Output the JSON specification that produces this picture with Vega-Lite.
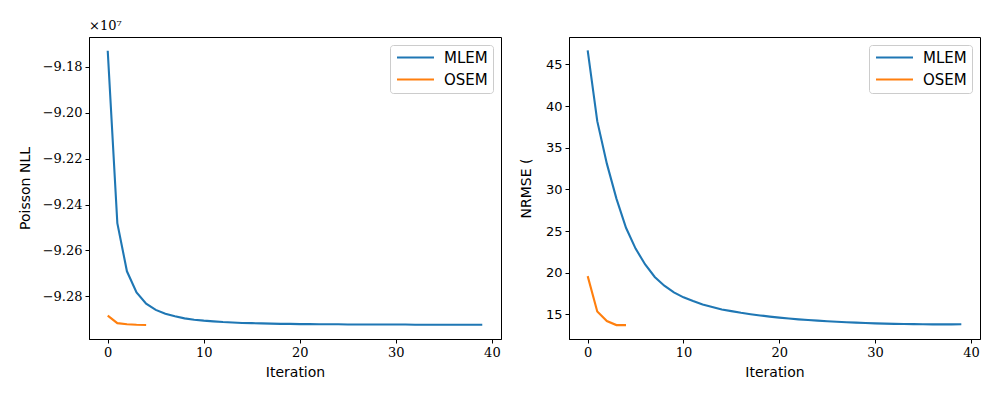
{
  "$schema": "https://vega.github.io/schema/vega-lite/v6.json",
  "background": "white",
  "padding": {"left": 17, "top": 19, "right": 5, "bottom": 5},
  "data": {"values": [
    {"it":0,"m":"MLEM","nll":-91730000,"nrmse":46.7},
    {"it":1,"m":"MLEM","nll":-92481000,"nrmse":38.2},
    {"it":2,"m":"MLEM","nll":-92691000,"nrmse":33.1},
    {"it":3,"m":"MLEM","nll":-92783000,"nrmse":28.9},
    {"it":4,"m":"MLEM","nll":-92832000,"nrmse":25.4},
    {"it":5,"m":"MLEM","nll":-92859000,"nrmse":22.9},
    {"it":6,"m":"MLEM","nll":-92876000,"nrmse":21.0},
    {"it":7,"m":"MLEM","nll":-92887000,"nrmse":19.5},
    {"it":8,"m":"MLEM","nll":-92896000,"nrmse":18.45},
    {"it":9,"m":"MLEM","nll":-92902000,"nrmse":17.65},
    {"it":10,"m":"MLEM","nll":-92906000,"nrmse":17.05},
    {"it":11,"m":"MLEM","nll":-92909000,"nrmse":16.6},
    {"it":12,"m":"MLEM","nll":-92912000,"nrmse":16.2},
    {"it":13,"m":"MLEM","nll":-92914000,"nrmse":15.9},
    {"it":14,"m":"MLEM","nll":-92916000,"nrmse":15.6},
    {"it":15,"m":"MLEM","nll":-92917000,"nrmse":15.4},
    {"it":16,"m":"MLEM","nll":-92918000,"nrmse":15.2},
    {"it":17,"m":"MLEM","nll":-92919000,"nrmse":15.03},
    {"it":18,"m":"MLEM","nll":-92920000,"nrmse":14.88},
    {"it":19,"m":"MLEM","nll":-92920000,"nrmse":14.74},
    {"it":20,"m":"MLEM","nll":-92921000,"nrmse":14.62},
    {"it":21,"m":"MLEM","nll":-92921000,"nrmse":14.51},
    {"it":22,"m":"MLEM","nll":-92922000,"nrmse":14.41},
    {"it":23,"m":"MLEM","nll":-92922000,"nrmse":14.33},
    {"it":24,"m":"MLEM","nll":-92922000,"nrmse":14.25},
    {"it":25,"m":"MLEM","nll":-92923000,"nrmse":14.18},
    {"it":26,"m":"MLEM","nll":-92923000,"nrmse":14.12},
    {"it":27,"m":"MLEM","nll":-92923000,"nrmse":14.06},
    {"it":28,"m":"MLEM","nll":-92923000,"nrmse":14.01},
    {"it":29,"m":"MLEM","nll":-92923000,"nrmse":13.97},
    {"it":30,"m":"MLEM","nll":-92923000,"nrmse":13.93},
    {"it":31,"m":"MLEM","nll":-92923000,"nrmse":13.9},
    {"it":32,"m":"MLEM","nll":-92924000,"nrmse":13.87},
    {"it":33,"m":"MLEM","nll":-92924000,"nrmse":13.85},
    {"it":34,"m":"MLEM","nll":-92924000,"nrmse":13.83},
    {"it":35,"m":"MLEM","nll":-92924000,"nrmse":13.82},
    {"it":36,"m":"MLEM","nll":-92924000,"nrmse":13.81},
    {"it":37,"m":"MLEM","nll":-92924000,"nrmse":13.81},
    {"it":38,"m":"MLEM","nll":-92924000,"nrmse":13.81},
    {"it":39,"m":"MLEM","nll":-92924000,"nrmse":13.82},
    {"it":0,"m":"OSEM","nll":-92884000,"nrmse":19.6},
    {"it":1,"m":"OSEM","nll":-92917000,"nrmse":15.35},
    {"it":2,"m":"OSEM","nll":-92922000,"nrmse":14.2},
    {"it":3,"m":"OSEM","nll":-92924000,"nrmse":13.72},
    {"it":4,"m":"OSEM","nll":-92925000,"nrmse":13.72}
  ]},
  "bounds": "flush",
  "spacing": 68,
  "resolve": {"legend": {"color": "independent"}, "scale": {"y": "independent"}},
  "hconcat": [
    {
      "width": 412,
      "height": 302,
      "title": {"text": "×10⁷", "anchor": "start", "frame": "group", "font": "DejaVu Serif", "fontSize": 13, "fontWeight": "normal", "offset": 4, "color": "black"},
      "mark": {"type": "line", "strokeWidth": 2.1},
      "encoding": {
        "x": {"field": "it", "type": "quantitative", "title": "Iteration",
              "scale": {"domain": [-1.95, 40.95], "nice": false, "zero": false},
              "axis": {"values": [0, 10, 20, 30, 40]}},
        "y": {"field": "nll", "type": "quantitative", "title": "Poisson NLL",
              "scale": {"domain": [-92986000, -91670000], "nice": false, "zero": false},
              "axis": {"values": [-91800000, -92000000, -92200000, -92400000, -92600000, -92800000],
                       "labelExpr": "replace(format(datum.value/10000000, '.2f'), '-', '−')"}},
        "color": {"field": "m", "type": "nominal",
                  "scale": {"domain": ["MLEM", "OSEM"], "range": ["#1f77b4", "#ff7f0e"]},
                  "legend": {"title": null}}
      }
    },
    {
      "width": 411,
      "height": 302,
      "mark": {"type": "line", "strokeWidth": 2.1},
      "encoding": {
        "x": {"field": "it", "type": "quantitative", "title": "Iteration",
              "scale": {"domain": [-1.95, 40.95], "nice": false, "zero": false},
              "axis": {"values": [0, 10, 20, 30, 40]}},
        "y": {"field": "nrmse", "type": "quantitative", "title": "NRMSE (",
              "scale": {"domain": [12.05, 48.3], "nice": false, "zero": false},
              "axis": {"values": [15, 20, 25, 30, 35, 40, 45], "labelFont": "DejaVu Sans", "titlePadding": 12}},
        "color": {"field": "m", "type": "nominal",
                  "scale": {"domain": ["MLEM", "OSEM"], "range": ["#1f77b4", "#ff7f0e"]},
                  "legend": {"title": null}}
      }
    }
  ],
  "config": {
    "view": {"stroke": "black", "strokeWidth": 1},
    "axis": {"domainColor": "black", "tickColor": "black", "tickSize": 4, "grid": false,
             "labelColor": "black", "titleColor": "black",
             "labelFont": "DejaVu Sans", "labelFontSize": 13,
             "titleFont": "DejaVu Sans", "titleFontSize": 14, "titleFontWeight": "normal",
             "labelPadding": 3, "titlePadding": 6},
    "axisX": {"labelFont": "DejaVu Serif"},
    "axisY": {"titlePadding": 10, "labelFont": "DejaVu Serif"},
    "legend": {"orient": "top-right", "offset": 8, "strokeColor": "#cccccc", "fillColor": "white",
               "cornerRadius": 3, "padding": 5, "symbolType": "M-3,0H3", "symbolSize": 152,
               "symbolOffset": 13,
               "symbolStrokeWidth": 2.1, "labelFont": "DejaVu Sans", "labelFontSize": 15,
               "labelColor": "black", "rowPadding": 6, "labelOffset": 21}
  }
}
